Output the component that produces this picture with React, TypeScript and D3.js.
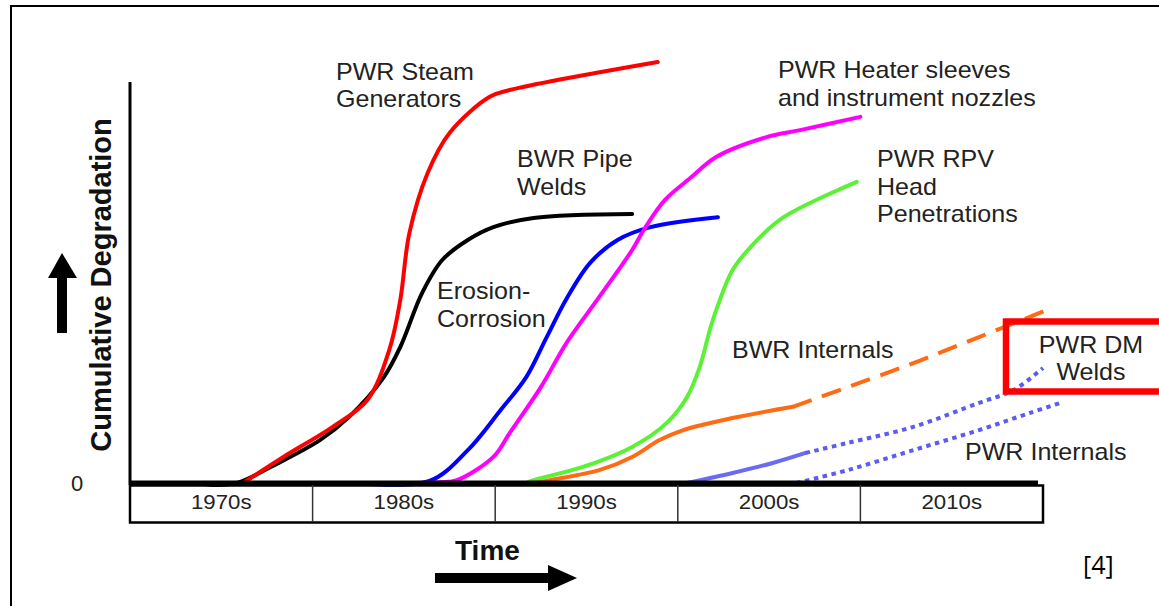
import React from 'react';
import * as d3 from 'd3';

type Pt = [number, number]; // [year, cumulative degradation]

const decades = ['1970s', '1980s', '1990s', '2000s', '2010s'];
const decadeStarts = [1970, 1980, 1990, 2000, 2010];

const steamGenerators: Pt[] = [
  [1976.2, 0], [1978.4, 6.5], [1981.1, 14.0], [1983.0, 20.7], [1984.2, 33.2],
  [1984.8, 45.6], [1985.3, 62.3], [1986.3, 77.3], [1987.5, 87.3], [1989.7, 96.3],
  [1990.8, 98.0], [1998.9, 105.0],
];
const erosionCorrosion: Pt[] = [
  [1973.8, 0], [1974.7, -0.5], [1976.0, 0.2], [1977.7, 4.0], [1980.4, 10.7],
  [1982.0, 16.5], [1983.9, 26.4], [1984.8, 33.9], [1986.0, 47.4], [1987.1, 55.6],
  [1988.5, 60.6], [1989.9, 63.8], [1992.1, 66.1], [1997.5, 67.1],
];
const bwrPipeWelds: Pt[] = [
  [1982.4, 0], [1986.4, 0.5], [1988.5, 8.2], [1990.3, 18.2], [1991.7, 26.4],
  [1992.8, 36.2], [1993.9, 45.9], [1995.2, 54.9], [1996.7, 60.6], [1998.5, 63.8],
  [2002.2, 66.3],
];
const heaterSleeves: Pt[] = [
  [1983.6, 0], [1987.0, 0.2], [1987.9, 0.7], [1989.9, 6.5], [1990.8, 12.5],
  [1992.5, 23.9], [1993.9, 34.9], [1995.7, 46.4], [1997.5, 58.1], [1998.2, 63.6],
  [1999.3, 70.6], [2000.7, 76.1], [2002.1, 81.3], [2004.9, 86.3], [2006.7, 88.0],
  [2010.0, 91.3],
];
const rpvHead: Pt[] = [
  [1991.7, 0], [1992.1, 0.7], [1994.8, 4.0], [1997.5, 9.0], [1999.4, 15.0],
  [2000.5, 21.4], [2001.2, 28.9], [2001.8, 38.9], [2002.3, 45.6], [2003.0, 53.1],
  [2004.0, 58.9], [2005.7, 66.0], [2009.8, 75.1],
];
const bwrInternals: Pt[] = [
  [1992.2, 0], [1993.0, 0.7], [1995.7, 3.2], [1997.5, 6.5], [1999.0, 10.7],
  [2000.3, 13.2], [2003.0, 16.2], [2006.3, 19.0],
];
const bwrInternalsProj: Pt[] = [
  [2006.3, 19.0], [2009.3, 23.9], [2012.9, 29.9], [2016.5, 36.4], [2020.2, 43.1],
];
const dmWelds: Pt[] = [
  [2000.5, 0], [2003.0, 2.5], [2005.2, 5.0], [2007.0, 7.5],
];
const dmWeldsProj: Pt[] = [
  [2007.0, 7.5], [2009.3, 10.0], [2012.9, 14.0], [2016.5, 20.0], [2018.4, 23.2],
  [2020.0, 28.7],
];
const pwrInternalsProj: Pt[] = [
  [2006.5, 0], [2009.3, 3.2], [2012.9, 8.2], [2016.5, 13.2], [2019.3, 17.5],
  [2021.1, 20.2],
];

const series = [
  { data: erosionCorrosion, color: '#000000', dash: null },
  { data: steamGenerators, color: '#ff0000', dash: null },
  { data: bwrPipeWelds, color: '#0000ff', dash: null },
  { data: heaterSleeves, color: '#ff00ff', dash: null },
  { data: rpvHead, color: '#5cf036', dash: null },
  { data: bwrInternals, color: '#ff6a14', dash: null },
  { data: bwrInternalsProj, color: '#ff6a14', dash: '20 11' },
  { data: dmWelds, color: '#6a6af5', dash: null },
  { data: dmWeldsProj, color: '#5c5cf2', dash: '4.5 4.5' },
  { data: pwrInternalsProj, color: '#5c5cf2', dash: '4.5 4.5' },
];

const W = 1159;
const H = 606;
const font = '"Liberation Sans", Arial, sans-serif';

export default function App() {
  const x = d3.scaleLinear().domain([1970, 2020]).range([130, 1043]);
  const y = d3.scaleLinear().domain([0, 100]).range([483, 82]);
  const line = d3.line<Pt>()
    .x(d => x(d[0]))
    .y(d => y(d[1]))
    .curve(d3.curveCatmullRom.alpha(0.5));

  // the source image is a bit stretched sideways, so text gets a small x-scale
  const label = (t: string, lx: number, ly: number, anchor = 'start') => (
    <text key={t + lx + ly} transform={`translate(${lx},${ly}) scale(1.09,1)`} fontSize={23}
      fill="#222" textAnchor={anchor}>{t}</text>
  );

  return (
    <svg width={W} height={H} style={{ position: 'absolute', left: 0, top: 0, background: '#fff' }}
      fontFamily={font}>
      <rect x={11} y={6} width={1200} height={700} fill="#fff" stroke="#000" strokeWidth={2} />

      {/* curves */}
      <g fill="none" strokeLinejoin="round">
        {series.map((s, i) => (
          <path key={i} d={line(s.data) || ''} stroke={s.color} strokeWidth={4}
            strokeDasharray={s.dash || undefined} strokeLinecap={s.dash ? 'butt' : 'round'} />
        ))}
      </g>

      {/* axes */}
      <line x1={x(1970)} x2={x(1970)} y1={y(100)} y2={y(0) + 2} stroke="#000" strokeWidth={3} />
      <line x1={x(1970) - 1} x2={1038} y1={y(0)} y2={y(0)} stroke="#000" strokeWidth={5} />
      <rect x={x(1970)} y={y(0) + 2.5} width={x(2020) - x(1970)} height={37} fill="none"
        stroke="#000" strokeWidth={2.5} />
      {decadeStarts.slice(1).map(d => (
        <line key={d} x1={x(d)} x2={x(d)} y1={y(0) + 2} y2={y(0) + 39} stroke="#333" strokeWidth={1.5} />
      ))}
      {decades.map((d, i) => (
        <text key={d} transform={`translate(${x(decadeStarts[i] + 5)},${y(0) + 26}) scale(1.06,1)`}
          fontSize={21} fill="#222" textAnchor="middle">{d}</text>
      ))}
      <text x={77} y={491} fontSize={22} fill="#222" textAnchor="middle">0</text>

      {/* y label + arrow */}
      <text transform="translate(111,285) rotate(-90)" fontSize={29} fontWeight="bold"
        textAnchor="middle" fill="#111">Cumulative Degradation</text>
      <polygon points="48,278 62,253 77,278" fill="#000" />
      <rect x={57} y={277} width={10} height={56} fill="#000" />

      {/* x label + arrow */}
      <text x={455} y={560} fontSize={28} fontWeight="bold" fill="#111">Time</text>
      <rect x={435} y={573} width={114} height={10} fill="#000" />
      <polygon points="548,565 577,578 548,591" fill="#000" />

      {/* annotations */}
      {label('PWR Steam', 336, 80)}
      {label('Generators', 336, 107)}
      {label('BWR Pipe', 517, 167)}
      {label('Welds', 517, 195)}
      {label('Erosion-', 437, 299)}
      {label('Corrosion', 437, 327)}
      {label('PWR Heater sleeves', 778, 78)}
      {label('and instrument nozzles', 778, 106)}
      {label('PWR RPV', 877, 167)}
      {label('Head', 877, 195)}
      {label('Penetrations', 877, 222)}
      {label('BWR Internals', 732, 358)}
      {label('PWR Internals', 965, 460)}

      <rect x={1006} y={321.5} width={200} height={70} fill="none" stroke="#ff0000" strokeWidth={6.5} />
      {label('PWR DM', 1091, 353, 'middle')}
      {label('Welds', 1091, 380, 'middle')}

      <text x={1083} y={574} fontSize={25} fill="#000" fontFamily='"Open Sans", "Noto Sans", sans-serif'>[4]</text>
    </svg>
  );
}
